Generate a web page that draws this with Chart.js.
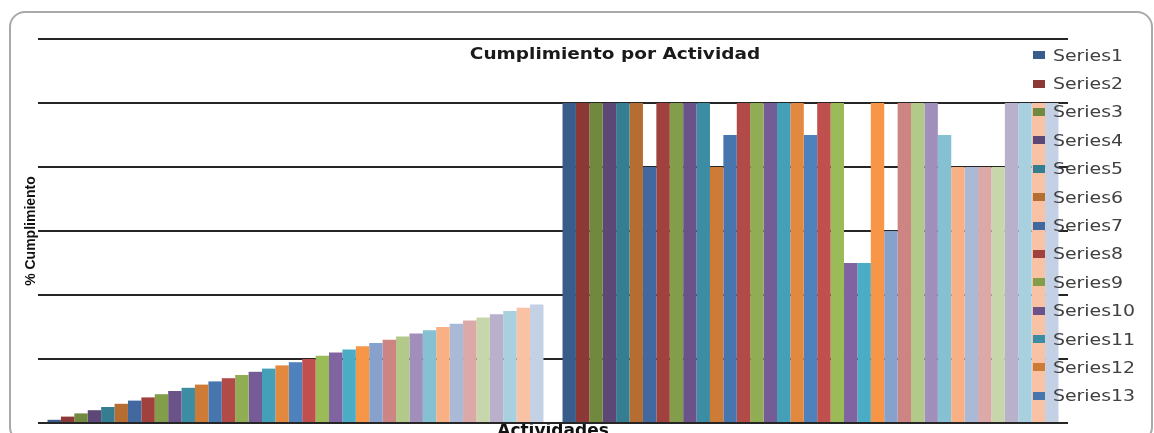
<!DOCTYPE html>
<html>
<head>
<meta charset="utf-8">
<title>Cumplimiento por Actividad</title>
<script src="https://cdn.jsdelivr.net/npm/chart.js@4.4.0/dist/chart.umd.min.js"></script>
<style>
  html, body { margin: 0; padding: 0; overflow: hidden; background: #fff; }
  #wrap { position: relative; width: 1154px; height: 433px; overflow: hidden; }
  #frame {
    position: absolute; left: 9px; top: 11px; width: 1144px; height: 432px;
    box-sizing: border-box; border: 2px solid #a9a9a9; border-radius: 16px;
  }
  #myChart { position: absolute; left: 0; top: 0; }
  #title {
    position: absolute; left: 615px; top: 53px; white-space: nowrap;
    transform: translate(-50%, -50%) scaleX(1.155);
    font: bold 16px "DejaVu Sans", sans-serif; color: #1a1a1a;
  }
  #legend { position: absolute; left: 1033px; top: 41px; }
  .item { height: 28.4px; display: flex; align-items: center; }
  .box { width: 12px; height: 8px; margin-right: 8px; flex: none; }
  .txt {
    font: 16px "DejaVu Sans", sans-serif; color: #404040; white-space: nowrap;
    transform: scaleX(1.18); transform-origin: left center;
  }
</style>
</head>
<body>
<div id="wrap">
  <div id="frame"></div>
  <canvas id="myChart" width="1154" height="470"></canvas>
  <div id="title">Cumplimiento por Actividad</div>
  <div id="legend"></div>
</div>
<script>
    // Categories (activities) - labels are not shown on the axis
    const categories = ['1', '2'];

    // Series names
    const seriesNames = [
        'Series1', 'Series2', 'Series3', 'Series4', 'Series5', 'Series6', 'Series7', 'Series8',
        'Series9', 'Series10', 'Series11', 'Series12', 'Series13', 'Series14', 'Series15', 'Series16',
        'Series17', 'Series18', 'Series19', 'Series20', 'Series21', 'Series22', 'Series23', 'Series24',
        'Series25', 'Series26', 'Series27', 'Series28', 'Series29', 'Series30', 'Series31', 'Series32',
        'Series33', 'Series34', 'Series35', 'Series36', 'Series37'
    ];

    // Values of every series in the first activity
    const firstActivity = [
        1, 2, 3, 4, 5, 6, 7, 8, 9, 10, 11, 12, 13, 14, 15, 16, 17, 18, 19,
        20, 21, 22, 23, 24, 25, 26, 27, 28, 29, 30, 31, 32, 33, 34, 35, 36, 37
    ];

    // Values of every series in the second activity
    const secondActivity = [
        100, 100, 100, 100, 100, 100, 80, 100, 100, 100, 100, 80, 90, 100, 100, 100, 100, 100, 90,
        100, 100, 50, 50, 100, 60, 100, 100, 100, 90, 80, 80, 80, 80, 100, 100, 100, 100
    ];

    // Excel style colours, one per series
    const seriesColors = [
        '#385d8a', '#8c3836', '#71893f', '#5c4776', '#357d91', '#b66d31',
        '#4169a0', '#a0413e', '#829e4b', '#6b5389', '#3c8da3', '#cf7b38',
        '#4775ae', '#b24a47', '#90ad53', '#765c96', '#449fb8', '#e2883f',
        '#4f81bd', '#c0504d', '#9bbb59', '#8064a2', '#4bacc6', '#f79646',
        '#86a1cb', '#cd8583', '#b3c98a', '#a08fbb', '#86c0d3', '#f8b084',
        '#a9b9d6', '#dba9a8', '#c7d7ab', '#b9b0cc', '#a9d0df', '#f9c2a5',
        '#c4d0e3'
    ];

    // Y axis range
    const yMin = 0;
    const yMax = 120;
    const yStep = 20;

    // Build the datasets from the arrays above
    const datasets = seriesNames.map((name, i) => ({
        label: name,
        data: [firstActivity[i], secondActivity[i]],
        backgroundColor: seriesColors[i],
        borderWidth: 0
    }));

    const data = {
        labels: categories,
        datasets: datasets
    };

    const options = {
        responsive: false,
        animation: false,
        layout: {
            padding: { left: 24, top: 39, right: 86, bottom: 30 }
        },
        datasets: {
            bar: {
                categoryPercentage: 0.963,
                barPercentage: 1.0
            }
        },
        plugins: {
            legend: { display: false },
            title: { display: false },
            tooltip: { enabled: false }
        },
        scales: {
            x: {
                ticks: { display: false },
                grid: { display: false, drawTicks: false },
                border: { display: false },
                title: {
                    display: true,
                    text: 'Actividades',
                    color: '#111',
                    font: { family: 'DejaVu Sans', size: 17, weight: 'bold', lineHeight: 1 },
                    padding: { top: 0, bottom: 0 }
                }
            },
            y: {
                min: yMin,
                max: yMax,
                ticks: { display: false, stepSize: yStep },
                grid: { color: '#262626', lineWidth: 2, drawTicks: false },
                border: { display: false },
                title: {
                    display: true,
                    text: '% Cumplimiento',
                    color: '#111',
                    font: { family: 'Liberation Sans', size: 14, weight: 'bold', lineHeight: 1 },
                    padding: { top: 0, bottom: 0 }
                }
            }
        }
    };

    // Initialize the chart
    const ctx = document.getElementById('myChart').getContext('2d');
    const myChart = new Chart(ctx, {
        type: 'bar',
        data: data,
        options: options
    });

    // HTML legend - Excel only had room for the first 13 entries
    const legendEl = document.getElementById('legend');
    myChart.data.datasets.slice(0, 13).forEach(ds => {
        const item = document.createElement('div');
        item.className = 'item';
        const box = document.createElement('span');
        box.className = 'box';
        box.style.background = ds.backgroundColor;
        const txt = document.createElement('span');
        txt.className = 'txt';
        txt.textContent = ds.label;
        item.appendChild(box);
        item.appendChild(txt);
        legendEl.appendChild(item);
    });
</script>
</body>
</html>
